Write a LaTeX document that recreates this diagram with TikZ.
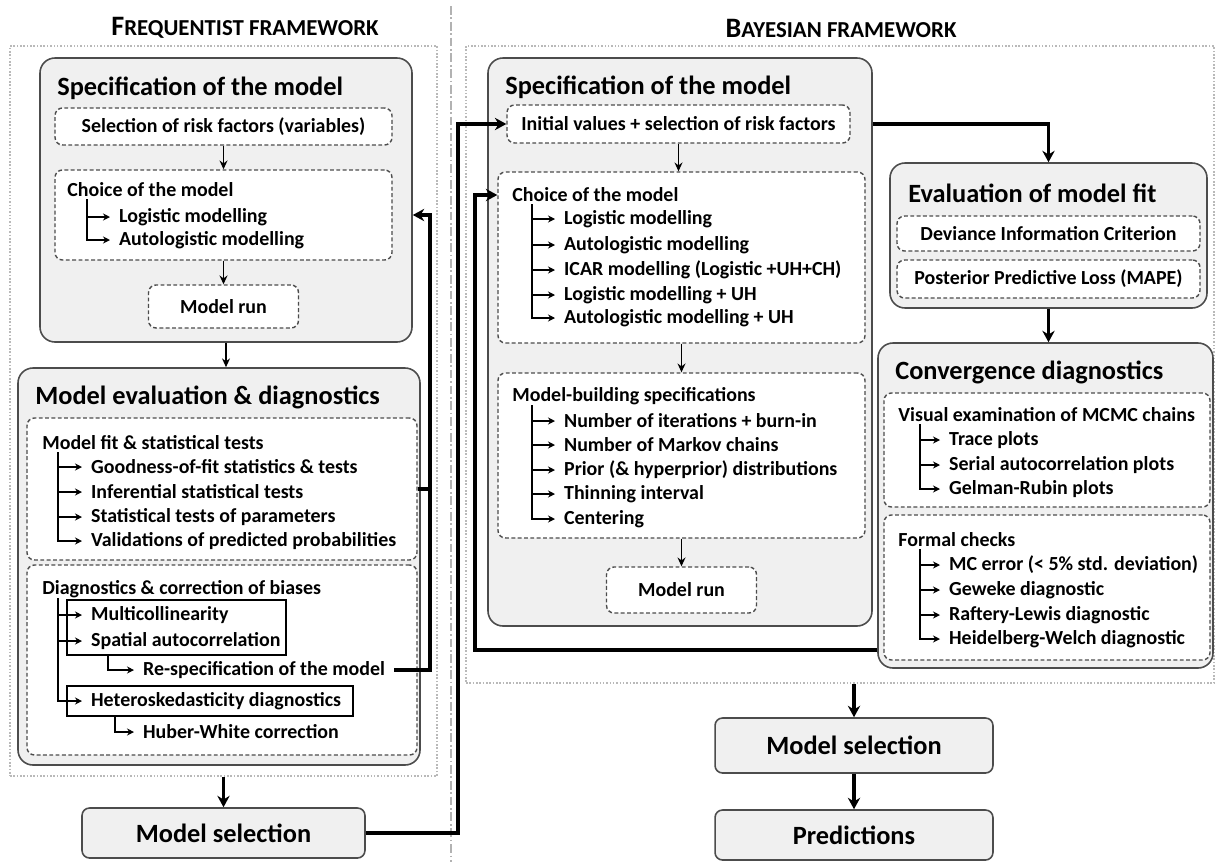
\documentclass[tikz,border=0pt]{standalone}
\usepackage{fontspec}
\setmainfont{Carlito}
\usetikzlibrary{arrows.meta, positioning, fit, calc}

\begin{document}
\begin{tikzpicture}[
  x=0.02cm, y=-0.02cm,
  every node/.style={font=\bfseries\fontsize{11.35}{13}\selectfont},
  outframe/.style={draw=gray!55, densely dotted, line width=0.9pt, inner sep=0pt},
  bigbox/.style={draw=black!70, fill=gray!12, rounded corners=0.3cm, line width=0.9pt, inner sep=0pt},
  dbox/.style={draw=black!70, fill=white, dash pattern=on 2.2pt off 1.4pt, rounded corners=0.15cm, line width=0.8pt, inner sep=0pt},
  hbox/.style={draw=black, line width=0.9pt, inner sep=0pt},
  selbox/.style={draw=black!70, fill=gray!12, rounded corners=0.15cm, line width=0.9pt, font=\bfseries\fontsize{15}{18}\selectfont},
  boxtitle/.style={anchor=west, inner sep=0pt, font=\bfseries\fontsize{15}{18}\selectfont},
  head/.style={anchor=west, inner sep=0pt},
  subitem/.style={anchor=west, inner xsep=5pt, inner ysep=1pt},
  framework/.style={font=\bfseries\fontsize{13}{15}\selectfont},
  branch/.style={-{Stealth[length=4pt, width=4pt]}, line width=1pt},
  arrow/.style={-{Stealth[length=5pt, width=4.5pt]}, line width=1pt},
  thickarrow/.style={-{Stealth[length=6.5pt, width=7pt]}, line width=2pt},
  sepline/.style={draw=gray!60, line width=0.9pt, dash pattern=on 5pt off 1.5pt on 1pt off 1.5pt}
]
\useasboundingbox (0,0) rectangle (1219,862);

% Frames
\node[framework] (ftitle) at (245,28) {{\fontsize{16}{15}\selectfont F}REQUENTIST FRAMEWORK};
\node[framework] (btitle) at (841,28) {{\fontsize{16}{15}\selectfont B}AYESIAN FRAMEWORK};
\node[outframe, fit={(10,46) (437,776)}] (fframe) {};
\node[outframe, fit={(466,46) (1214,683)}] (bframe) {};
\coordinate (septop) at (451,6);
\coordinate (sepbot) at (451,862);
\draw[sepline] (septop) -- (sepbot);

% Frequentist: specification
\node[bigbox, fit={(40,58) (412,342)}] (fspec) {};
\node[boxtitle] (fspect) at (57,88) {Specification of the model};
\node[dbox, minimum width=6.74cm, minimum height=0.74cm] (fsel) at (223.5,126.5) {Selection of risk factors (variables)};
\node[dbox, fit={(55,170) (392,260)}] (fchoice) {};
\node[head] (fchoiceh) at (67,190) {Choice of the model};
\coordinate (fta) at (87,199);
\node[subitem] (flog) at (110,217) {Logistic modelling};
\node[subitem] (fauto) at (110,240) {Autologistic modelling};
\node[dbox, minimum width=3cm, minimum height=0.86cm] (frun) at (223.5,306.5) {Model run};

% Frequentist: evaluation
\node[bigbox, fit={(18,368) (420,765)}] (feval) {};
\node[boxtitle] (fevalt) at (35,397) {Model evaluation \& diagnostics};
\node[dbox, fit={(27,418) (417,560)}] (ffit) {};
\node[head] (ffith) at (42,443) {Model fit \& statistical tests};
\coordinate (ftb) at (58,452);
\node[subitem] (fgof) at (82,467) {Goodness-of-fit statistics \& tests};
\node[subitem] (finf) at (82,492) {Inferential statistical tests};
\node[subitem] (fpar) at (82,517) {Statistical tests of parameters};
\node[subitem] (fval) at (82,541) {Validations of predicted probabilities};
\node[dbox, fit={(27,565) (417,755)}] (fdiag) {};
\node[head] (fdiagh) at (42,589) {Diagnostics \& correction of biases};
\coordinate (ftc) at (58,598);
\node[hbox, fit={(67,600) (286,655)}] (fmsbox) {};
\node[subitem] (fmul) at (82,615) {Multicollinearity};
\node[subitem] (fspa) at (82,641) {Spatial autocorrelation};
\coordinate (ftd) at (108,655);
\node[subitem] (fres) at (134,670) {Re-specification of the model};
\node[hbox, fit={(67,686) (353,716)}] (fhetbox) {};
\node[subitem] (fhet) at (82,701) {Heteroskedasticity diagnostics};
\coordinate (fte) at (115,716);
\node[subitem] (fhub) at (134,732) {Huber-White correction};

\node[selbox, minimum width=5.66cm, minimum height=1cm] (fmsel) at (223.5,833) {Model selection};

% Bayesian: specification
\node[bigbox, fit={(488,58) (872,626)}] (bspec) {};
\node[boxtitle] (bspect) at (505,87) {Specification of the model};
\node[dbox, minimum width=6.86cm, minimum height=0.76cm] (binit) at (678.5,124) {Initial values + selection of risk factors};
\node[dbox, fit={(498,172) (865,343)}] (bchoice) {};
\node[head] (bchoiceh) at (512,195) {Choice of the model};
\coordinate (bta) at (532,204);
\node[subitem] (blog) at (555,219) {Logistic modelling};
\node[subitem] (bauto) at (555,245) {Autologistic modelling};
\node[subitem] (bicar) at (555,270) {ICAR modelling (Logistic +UH+CH)};
\node[subitem] (bloguh) at (555,295) {Logistic modelling + UH};
\node[subitem] (bautouh) at (555,318) {Autologistic modelling + UH};
\node[dbox, fit={(498,373) (865,538)}] (bbuild) {};
\node[head] (bbuildh) at (512,396) {Model-building specifications};
\coordinate (btb) at (532,405);
\node[subitem] (biter) at (555,421) {Number of iterations + burn-in};
\node[subitem] (bchains) at (555,445) {Number of Markov chains};
\node[subitem] (bprior) at (555,470) {Prior (\& hyperprior) distributions};
\node[subitem] (bthin) at (555,494) {Thinning interval};
\node[subitem] (bcent) at (555,519) {Centering};
\node[dbox, minimum width=3cm, minimum height=0.92cm] (brun) at (681.5,590) {Model run};

% Bayesian: model fit
\node[bigbox, fit={(890,163) (1207,308)}] (beval) {};
\node[boxtitle] (bevalt) at (908,193) {Evaluation of model fit};
\node[dbox, minimum width=6.06cm, minimum height=0.7cm] (bdic) at (1048.5,233.5) {Deviance Information Criterion};
\node[dbox, minimum width=6.06cm, minimum height=0.76cm] (bppl) at (1048.5,279) {Posterior Predictive Loss (MAPE)};

% Bayesian: convergence
\node[bigbox, fit={(878,343) (1213,668)}] (bconv) {};
\node[boxtitle] (bconvt) at (895,372) {Convergence diagnostics};
\node[dbox, fit={(884,393) (1210,507)}] (bvis) {};
\node[head] (bvish) at (898,415) {Visual examination of MCMC chains};
\coordinate (btc) at (920,424);
\node[subitem] (btrace) at (940,440) {Trace plots};
\node[subitem] (bserial) at (940,465) {Serial autocorrelation plots};
\node[subitem] (bgelman) at (940,489) {Gelman-Rubin plots};
\node[dbox, fit={(884,515) (1210,660)}] (bform) {};
\node[head] (bformh) at (898,540) {Formal checks};
\coordinate (btd) at (920,549);
\node[subitem] (bmcerr) at (940,565) {MC error (< 5\% std. deviation)};
\node[subitem] (bgew) at (940,590) {Geweke diagnostic};
\node[subitem] (braft) at (940,615) {Raftery-Lewis diagnostic};
\node[subitem] (bheid) at (940,639) {Heidelberg-Welch diagnostic};

\node[selbox, minimum width=5.56cm, minimum height=1.1cm] (bmsel) at (854,745.5) {Model selection};
\node[selbox, minimum width=5.56cm, minimum height=1cm] (bpred) at (854,835) {Predictions};

% Arrows, frequentist
\draw[arrow] (fsel.south) -- (fchoice.north);
\draw[arrow] (fchoice.south) -- (frun.north);
\draw[arrow] (fspec.south) -- (fspec.south |- feval.north);
\draw[branch] (fta) |- (flog.west);
\draw[branch] (fta) |- (fauto.west);
\draw[branch] (ftb) |- (fgof.west);
\draw[branch] (ftb) |- (finf.west);
\draw[branch] (ftb) |- (fpar.west);
\draw[branch] (ftb) |- (fval.west);
\draw[branch] (ftc) |- (fmul.west);
\draw[branch] (ftc) |- (fspa.west);
\draw[branch] (ftc) |- (fhet.west);
\draw[branch] (ftd) |- (fres.west);
\draw[branch] (fte) |- (fhub.west);

% Re-specification loop
\coordinate (floop) at (430,450);
\draw[thickarrow] (fres.east) -- (fres.east -| floop) |- (fspec.east |- fchoice);
\draw[thickarrow, -] (ffit.east) -- (ffit.east -| floop);

\draw[thickarrow] (fframe.south) -- (fmsel.north);
\coordinate (bjoin) at (458,500);
\draw[thickarrow] (fmsel.east) -- (fmsel.east -| bjoin) |- (binit.west);

% Arrows, bayesian
\draw[arrow] (binit.south) -- (binit.south |- bchoice.north);
\draw[arrow] (bchoice.south) -- (bbuild.north);
\draw[arrow] (bbuild.south) -- (brun.north);
\draw[branch] (bta) |- (blog.west);
\draw[branch] (bta) |- (bauto.west);
\draw[branch] (bta) |- (bicar.west);
\draw[branch] (bta) |- (bloguh.west);
\draw[branch] (bta) |- (bautouh.west);
\draw[branch] (btb) |- (biter.west);
\draw[branch] (btb) |- (bchains.west);
\draw[branch] (btb) |- (bprior.west);
\draw[branch] (btb) |- (bthin.west);
\draw[branch] (btb) |- (bcent.west);
\draw[branch] (btc) |- (btrace.west);
\draw[branch] (btc) |- (bserial.west);
\draw[branch] (btc) |- (bgelman.west);
\draw[branch] (btd) |- (bmcerr.west);
\draw[branch] (btd) |- (bgew.west);
\draw[branch] (btd) |- (braft.west);
\draw[branch] (btd) |- (bheid.west);

\draw[thickarrow] (bspec.east |- binit) -| (beval.north);
\draw[thickarrow] (beval.south) -- (beval.south |- bconv.north);
\coordinate (bloop) at (475,650);
\draw[thickarrow] (bconv.west |- bloop) -- (bloop) |- (bchoice.west |- bchoiceh);

\draw[thickarrow] (bmsel.north |- bframe.south) -- (bmsel.north);
\draw[thickarrow] (bmsel.south) -- (bpred.north);

\end{tikzpicture}
\end{document}
